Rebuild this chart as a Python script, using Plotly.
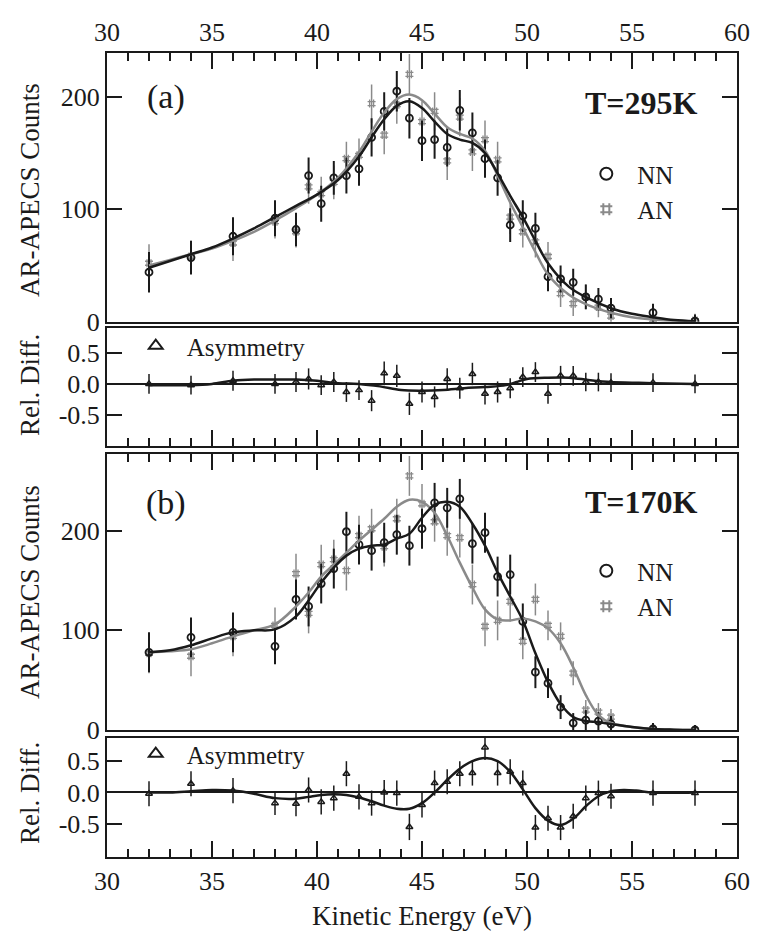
import plotly.graph_objects as go

# Kinetic energies of the measured points (eV)
energy = [32, 34, 36, 38, 39.0, 39.6, 40.2, 40.8, 41.4, 42.0, 42.6, 43.2, 43.8, 44.4,
          45.0, 45.6, 46.2, 46.8, 47.4, 48.0, 48.6, 49.2, 49.8, 50.4, 51.0, 51.6,
          52.2, 52.8, 53.4, 54.0, 56, 58]

# (a) T = 295 K
nn_295 = [44, 57, 76, 92, 82, 130, 105, 128, 130, 136, 164, 187, 205, 181, 161, 162,
          155, 188, 168, 145, 128, 86, 94, 83, 40, 38, 35, 22, 20, 12, 8, 0.5]
nn_295_err = [18, 15, 17, 16, 15, 16, 16, 15, 16, 15, 17, 17, 18, 18, 18, 17,
              17, 18, 18, 17, 16, 15, 14, 14, 13, 12, 12, 11, 10, 9, 8, 6]
an_295 = [52, 58, 70, 89, 80, 120, 114, 124, 145, 148, 194, 166, 193, 220, 178, 187,
          143, 182, 151, 162, 144, 93, 80, 71, 58, 25, 16, 22, 13, 5, 2, 1]
an_295_err = [17, 14, 16, 15, 14, 15, 15, 15, 15, 15, 17, 17, 17, 18, 18, 17,
              17, 17, 17, 17, 16, 15, 14, 14, 13, 12, 11, 11, 9, 8, 7, 6]
asym_295 = [0.0, -0.02, 0.05, 0.0, 0.03, 0.08, -0.02, 0.03, -0.13, -0.1, -0.27, 0.17,
            0.13, -0.32, -0.13, -0.21, 0.08, -0.07, 0.16, -0.16, -0.13, -0.07, 0.11,
            0.19, -0.16, 0.13, 0.13, 0.03, 0.03, 0.02, 0.02, 0.0]
asym_295_err = [0.16, 0.15, 0.16, 0.16, 0.16, 0.17, 0.16, 0.16, 0.16, 0.16, 0.17, 0.19,
                0.18, 0.18, 0.17, 0.17, 0.17, 0.17, 0.18, 0.17, 0.17, 0.16, 0.16, 0.16,
                0.16, 0.16, 0.16, 0.15, 0.15, 0.15, 0.15, 0.15]

# (b) T = 170 K
nn_170 = [78, 93, 98, 84, 131, 124, 147, 162, 199, 186, 180, 188, 196, 185, 202, 228,
          223, 232, 187, 198, 154, 156, 109, 58, 47, 23, 7, 10, 9, 6, 1, 0]
nn_170_err = [20, 20, 20, 18, 20, 20, 20, 20, 20, 20, 20, 20, 20, 20, 20, 20,
              20, 20, 20, 20, 20, 20, 18, 16, 15, 12, 10, 10, 9, 8, 6, 5]
an_170 = [77, 74, 94, 105, 157, 117, 166, 171, 160, 195, 202, 184, 212, 255, 227, 209,
          195, 193, 146, 104, 110, 129, 89, 131, 105, 94, 57, 20, 18, 13, 1, 0]
an_170_err = [20, 20, 20, 18, 20, 20, 20, 20, 20, 20, 20, 20, 20, 20, 20, 20,
              20, 20, 20, 20, 20, 20, 18, 16, 15, 14, 12, 10, 9, 8, 6, 5]
asym_170 = [-0.02, 0.14, 0.03, -0.17, -0.18, 0.04, -0.15, -0.09, 0.3, -0.07, -0.17, 0.0,
            -0.01, -0.55, -0.2, 0.15, 0.17, 0.3, 0.31, 0.72, 0.31, 0.33, 0.15, -0.56,
            -0.41, -0.56, -0.38, -0.09, -0.01, -0.06, -0.01, -0.01]
asym_170_err = [0.2, 0.2, 0.2, 0.19, 0.2, 0.2, 0.2, 0.2, 0.2, 0.2, 0.2, 0.2,
                0.2, 0.21, 0.2, 0.2, 0.2, 0.2, 0.2, 0.2, 0.2, 0.2, 0.2, 0.2,
                0.2, 0.2, 0.2, 0.2, 0.2, 0.2, 0.2, 0.2]

# Fitted curves
fit_e = [32, 33, 34, 35, 36, 37, 38, 39, 40, 41, 42, 42.6, 43.2, 43.8, 44.4, 45, 45.6,
         46.2, 46.8, 47.4, 48, 48.6, 49.2, 49.8, 50.4, 51, 52, 53, 54, 55, 56, 57, 58]
fit_nn_295 = [48, 54, 60, 66, 74, 83, 93, 103, 113, 126, 147, 164, 180, 192, 196, 190,
              178, 167, 162, 159, 150, 132, 112, 93, 72, 52, 31, 20, 12, 7, 4, 1.5, 0.5]
fit_an_295 = [50, 55, 60, 65, 72, 80, 90, 101, 113, 128, 151, 169, 186, 198, 202, 197,
              185, 173, 167, 163, 152, 130, 106, 84, 62, 42, 24, 14, 8, 4, 2, 0.8, 0.3]

fit_e_b = [32, 33, 34, 35, 36, 37, 38, 39, 39.6, 40.2, 40.8, 41.4, 42, 42.6, 43.2, 43.8,
           44.4, 45, 45.6, 46.2, 46.8, 47.4, 48, 48.6, 49.2, 49.8, 50.4, 51, 51.6, 52.2,
           52.8, 53.4, 54, 55, 56, 57, 58]
fit_nn_170 = [78, 80, 85, 92, 98, 100, 101, 114, 130, 148, 163, 175, 182, 185, 186, 192,
              197, 213, 226, 229, 224, 207, 185, 158, 134, 110, 77, 48, 26, 13,
              9, 8, 6, 3, 1, 0.3, 0]
fit_an_170 = [78, 79, 81, 87, 94, 100, 106, 124, 138, 154, 166, 178, 190, 201, 212, 224,
              231, 229, 218, 195, 168, 143, 121, 111, 110, 112, 109, 102, 87, 63,
              35, 15, 7, 3, 1, 0.3, 0]

fit_asym_e_a = [32, 34, 35, 36, 37, 38, 39, 40, 41, 42, 43, 44, 45, 46, 47, 48, 49, 49.5,
                50, 51, 52, 53, 54, 55, 56, 58]
fit_asym_a = [-0.02, -0.02, 0.0, 0.05, 0.07, 0.07, 0.07, 0.05, 0.01, 0.0, -0.04, -0.1,
              -0.11, -0.1, -0.07, -0.05, -0.02, 0.03, 0.08, 0.1, 0.1, 0.06, 0.03, 0.02,
              0.01, 0.0]
fit_asym_e_b = [32, 33, 34, 35, 36, 37, 38, 39, 39.6, 40.2, 40.8, 41.4, 42, 42.6, 43.2,
                43.8, 44.4, 45, 45.6, 46.2, 46.8, 47.4, 48, 48.6, 49.2, 49.8, 50.4, 51,
                51.6, 52.2, 52.8, 53.4, 54, 54.6, 55.2, 56, 58]
fit_asym_b = [0.0, 0.0, 0.02, 0.04, 0.03, -0.02, -0.09, -0.1, -0.07, -0.04, -0.03, -0.04,
              -0.08, -0.14, -0.21, -0.26, -0.26, -0.17, 0.0, 0.2, 0.38, 0.5, 0.55, 0.5,
              0.33, 0.05, -0.25, -0.45, -0.52, -0.42, -0.22, -0.06, 0.02, 0.04, 0.03,
              0.0, 0.0]

FONT = "Liberation Serif, Times New Roman, serif"
INK = "#1a1a1a"
GREY = "#8a8a8a"

# figure geometry in pixels
W, H = 762, 934
L, R, T, B = 107, 16, 53, 77
PW, PH = W - L - R, H - T - B


def fx(px):
    return (px - L) / PW


def fy(py):
    return (H - B - py) / PH


fig = go.Figure()


def points(x, y, err, xa, ya, symbol, color, size, lw, ew):
    fig.add_trace(go.Scatter(
        x=x, y=y, mode="markers", xaxis=xa, yaxis=ya,
        marker=dict(symbol=symbol, size=size, color=color, line=dict(color=color, width=lw)),
        error_y=dict(type="data", array=err, visible=True, color=color, thickness=ew, width=0),
        showlegend=False))


def key(symbol, color, size, lw, name, legend):
    fig.add_trace(go.Scatter(
        x=[None], y=[None], mode="markers", name=name, legend=legend,
        marker=dict(symbol=symbol, size=size, color=color, line=dict(color=color, width=lw)),
        showlegend=True))


def curve(x, y, xa, ya, color, width):
    fig.add_trace(go.Scatter(
        x=x, y=y, mode="lines", xaxis=xa, yaxis=ya, showlegend=False,
        line=dict(color=color, width=width, shape="spline", smoothing=1.0),
        hoverinfo="skip"))


# panel (a)
points(energy, an_295, an_295_err, "x", "y", "hash-open", GREY, 8, 1.3, 1.5)
points(energy, nn_295, nn_295_err, "x", "y", "circle-open", INK, 7, 1.8, 2)
curve(fit_e, fit_an_295, "x", "y", GREY, 2.5)
curve(fit_e, fit_nn_295, "x", "y", INK, 2.5)
key("circle-open", INK, 12, 1.5, "NN", "legend")
key("hash-open", GREY, 12, 1.5, "AN", "legend")

# relative difference (a)
points(energy, asym_295, asym_295_err, "x2", "y2", "triangle-up-open", INK, 6, 1.5, 1.5)
curve(fit_asym_e_a, fit_asym_a, "x2", "y2", INK, 2.5)
key("triangle-up-open", INK, 10, 1.3, "Asymmetry", "legend2")

# panel (b)
points(energy, an_170, an_170_err, "x3", "y3", "hash-open", GREY, 8, 1.3, 1.5)
points(energy, nn_170, nn_170_err, "x3", "y3", "circle-open", INK, 7, 1.8, 2)
curve(fit_e_b, fit_an_170, "x3", "y3", GREY, 2.5)
curve(fit_e_b, fit_nn_170, "x3", "y3", INK, 2.5)
key("circle-open", INK, 12, 1.5, "NN", "legend3")
key("hash-open", GREY, 12, 1.5, "AN", "legend3")

# relative difference (b)
points(energy, asym_170, asym_170_err, "x4", "y4", "triangle-up-open", INK, 6, 1.5, 1.5)
curve(fit_asym_e_b, fit_asym_b, "x4", "y4", INK, 2.5)
key("triangle-up-open", INK, 10, 1.3, "Asymmetry", "legend4")

tickfont = dict(family=FONT, size=26, color=INK)
xcommon = dict(range=[30, 60], tick0=30, dtick=5, ticks="inside", ticklen=16, tickwidth=1.5,
               tickcolor=INK, showline=True, linewidth=2, linecolor=INK, mirror=True,
               showgrid=False, zeroline=False,
               minor=dict(dtick=1, ticks="inside", ticklen=8, tickwidth=1.5, tickcolor=INK),
               tickfont=tickfont)
ycommon = dict(ticks="inside", ticklen=15, tickwidth=1.5, tickcolor=INK, showline=True,
               linewidth=2, linecolor=INK, mirror="ticks", showgrid=False,
               tickfont=tickfont)

leg = dict(font=dict(family=FONT, size=25, color=INK), bgcolor="rgba(0,0,0,0)",
           xanchor="left", yanchor="top", itemsizing="constant", itemwidth=52,
           tracegroupgap=0)

fig.update_layout(
    width=W, height=H, margin=dict(l=L, r=R, t=T, b=B),
    font=dict(family=FONT, color=INK),
    paper_bgcolor="white", plot_bgcolor="white",
    xaxis=dict(xcommon, anchor="y", side="top", showticklabels=True),
    xaxis2=dict(xcommon, anchor="y2", side="bottom", showticklabels=False, matches="x"),
    xaxis3=dict(xcommon, anchor="y3", side="top", showticklabels=False, matches="x"),
    xaxis4=dict(xcommon, anchor="y4", side="bottom", showticklabels=True, matches="x"),
    yaxis=dict(ycommon, domain=[fy(321.7), 1.0], range=[0, 239], tickvals=[0, 100, 200],
               zeroline=False),
    yaxis2=dict(ycommon, domain=[fy(446), fy(328)], range=[-1.0, 0.9],
                tickvals=[-0.5, 0, 0.5], ticktext=["-0.5", "0.0", "0.5"],
                zeroline=True, zerolinecolor=INK, zerolinewidth=1.5),
    yaxis3=dict(ycommon, domain=[fy(730), fy(454)], range=[0, 277], tickvals=[0, 100, 200],
                zeroline=False),
    yaxis4=dict(ycommon, domain=[0.0, fy(738)], range=[-1.03, 0.87],
                tickvals=[-0.5, 0, 0.5], ticktext=["-0.5", "0.0", "0.5"],
                zeroline=True, zerolinecolor=INK, zerolinewidth=1.5),
    legend=dict(leg, x=fx(582), y=fy(151)),
    legend2=dict(leg, x=fx(125), y=fy(323)),
    legend3=dict(leg, x=fx(582), y=fy(548)),
    legend4=dict(leg, x=fx(125), y=fy(731)),
    showlegend=True,
)

ann = []
for txt, cx, cy in [("AR-APECS Counts", 29, 190), ("Rel. Diff.", 29, 385),
                    ("AR-APECS Counts", 29, 592), ("Rel. Diff.", 29, 793)]:
    ann.append(dict(text=txt, x=fx(cx), y=fy(cy), xref="paper", yref="paper",
                    textangle=-90, showarrow=False, xanchor="center", yanchor="middle",
                    font=dict(family=FONT, size=27, color=INK)))
ann.append(dict(text="Kinetic Energy (eV)", x=fx(426), y=fy(916), xref="paper", yref="paper",
                showarrow=False, xanchor="center", yanchor="middle",
                font=dict(family=FONT, size=27, color=INK)))
for txt, cy in [("(a)", 97), ("(b)", 503)]:
    ann.append(dict(text=txt, x=fx(167), y=fy(cy), xref="paper", yref="paper",
                    showarrow=False, xanchor="center", yanchor="middle",
                    font=dict(family=FONT, size=34, color=INK)))
for txt, cy in [("<b>T=295K</b>", 103), ("<b>T=170K</b>", 502)]:
    ann.append(dict(text=txt, x=fx(649), y=fy(cy), xref="paper", yref="paper",
                    showarrow=False, xanchor="center", yanchor="middle",
                    font=dict(family=FONT, size=32, color=INK)))
fig.update_layout(annotations=ann)

fig.write_html("out.html")
